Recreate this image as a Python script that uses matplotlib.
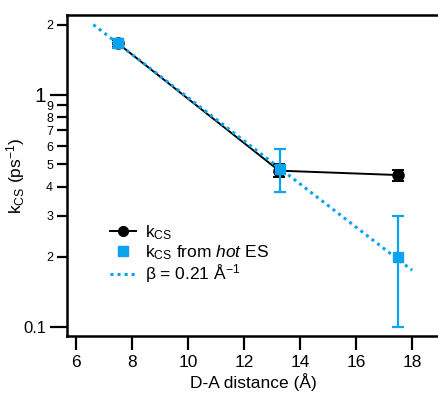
import matplotlib
matplotlib.use("Agg")
import matplotlib.pyplot as plt
from matplotlib.ticker import FixedLocator, FixedFormatter, NullFormatter
from matplotlib.lines import Line2D

plt.rcParams['font.family'] = ['Liberation Sans', 'DejaVu Sans']
plt.rcParams['mathtext.fontset'] = 'custom'
plt.rcParams['mathtext.rm'] = 'Liberation Sans'
plt.rcParams['mathtext.it'] = 'Liberation Sans:italic'

# data
x_kcs = [7.5, 13.25, 17.5]
y_kcs = [1.66, 0.47, 0.45]
err_kcs = [0.06, 0.03, 0.025]

x_hot = [7.5, 13.28, 17.5]
y_hot = [1.66, 0.48, 0.2]
err_hot = [0.08, 0.10, 0.10]

x_fit = [6.62, 18.0]
y_fit = [2.0, 0.175]

blue = '#0AA3F0'

fig = plt.figure(figsize=(4.39, 3.94), dpi=100)
ax = fig.add_axes([67/439, 1-335.7/394, 1-67/439, (335.7-15)/394])

ax.errorbar(x_kcs, y_kcs, yerr=err_kcs, color='black', marker='o', markersize=8,
            lw=1.4, capsize=4, elinewidth=1.4, capthick=1.4, zorder=3)
ax.errorbar(x_hot, y_hot, yerr=err_hot, color=blue, marker='s', markersize=6.5,
            ls='none', capsize=4, elinewidth=1.6, capthick=1.6, zorder=4)
ax.plot(x_fit, y_fit, color=blue, lw=2.2, ls=(0, (1, 1.3)), zorder=5)

ax.set_yscale('log')
ax.set_xlim(5.68, 18.96)
ax.set_ylim(0.0915, 2.2)

ax.xaxis.set_major_locator(FixedLocator([6, 8, 10, 12, 14, 16, 18]))
ax.yaxis.set_major_locator(FixedLocator([0.1, 1]))
ax.yaxis.set_major_formatter(FixedFormatter(['0.1', '1']))
minor = [0.2, 0.3, 0.4, 0.5, 0.6, 0.7, 0.8, 0.9, 2]
ax.yaxis.set_minor_locator(FixedLocator(minor))
ax.yaxis.set_minor_formatter(FixedFormatter(['2', '3', '4', '5', '6', '7', '8', '9', '2']))
ax.xaxis.set_minor_formatter(NullFormatter())

ax.tick_params(axis='x', which='major', direction='out', length=10, width=1.6, labelsize=12.5, pad=4)
ax.tick_params(axis='y', which='major', direction='out', length=12, width=1.6, labelsize=12, pad=3)
ax.tick_params(axis='y', which='minor', direction='out', length=7, width=1.6, labelsize=9, pad=3)
for lbl, t in zip(ax.yaxis.get_majorticklabels(), ['0.1', '1']):
    if t == '1':
        lbl.set_fontsize(15)

for s in ['left', 'bottom', 'top']:
    ax.spines[s].set_linewidth(1.8)
ax.spines['right'].set_visible(False)

ax.set_xlabel('D-A distance (Å)', fontsize=12.5, labelpad=2)
ax.set_ylabel(r'k$_{\mathrm{CS}}$ (ps$^{-1}$)', fontsize=12.5)
ax.yaxis.set_label_coords(-0.107, 0.5)

handles = [
    Line2D([], [], color='black', marker='o', markersize=7, lw=1.4),
    Line2D([], [], color=blue, marker='s', markersize=6.5, ls='none'),
    Line2D([], [], color=blue, lw=2.2, ls=(0, (1, 1.3))),
]
labels = [r'k$_{\mathrm{CS}}$', r'k$_{\mathrm{CS}}$ from $\it{hot}$ ES', r'β = 0.21 Å$^{-1}$']
ax.legend(handles, labels, loc='upper left', bbox_to_anchor=(0.1156, 0.35),
          frameon=False, fontsize=12.5, handlelength=1.5, handletextpad=0.5,
          labelspacing=0.05, borderpad=0, borderaxespad=0)
fig.savefig('out.png', dpi=100)
